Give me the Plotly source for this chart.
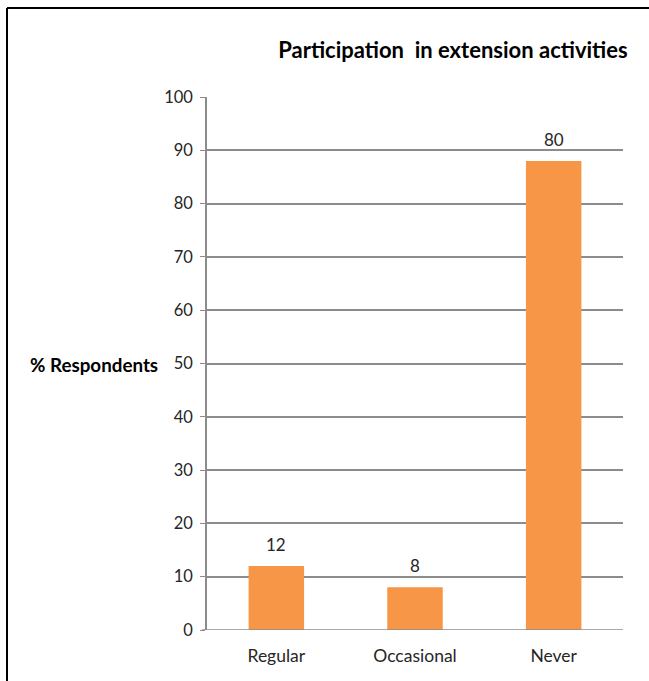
import plotly.graph_objects as go

categories = ["Regular", "Occasional", "Never"]
bar_heights = [12, 8, 88]
bar_labels = ["12", "8", "80"]
y_ticks = [0, 10, 20, 30, 40, 50, 60, 70, 80, 90, 100]

W, H = 649, 681
L, R, T, B = 207, 26, 97, 51
FONT = "Lato, sans-serif"

fig = go.Figure()
fig.add_trace(go.Bar(
    x=categories, y=bar_heights,
    marker=dict(color="#F79646", line=dict(width=0)),
    width=0.4,
))

pw = W - L - R
ph = H - T - B
def px(x):
    return (x - L) / pw
def py(y):
    return (H - B - y) / ph

annotations = [dict(text="<b>% Respondents</b>", xref="paper", yref="paper",
                    x=px(94), y=py(364), xanchor="center", yanchor="middle",
                    showarrow=False,
                    font=dict(family=FONT, size=18.8, color="black"))]
for c, h, lab in zip(categories, bar_heights, bar_labels):
    annotations.append(dict(text=lab, x=c, y=h, xref="x", yref="y",
                            showarrow=False, yanchor="bottom", yshift=9,
                            font=dict(family=FONT, size=17, color="#262626")))

fig.update_layout(
    width=W, height=H,
    margin=dict(l=L, r=R, t=T, b=B, pad=0),
    paper_bgcolor="white", plot_bgcolor="white",
    showlegend=False,
    title=dict(text="<b>Participation  in extension activities</b>",
               x=px(453), xref="paper", xanchor="center",
               y=1 - 50 / H, yanchor="middle",
               font=dict(family=FONT, size=22, color="black")),
    xaxis=dict(showgrid=False, showline=False, ticks="",
               tickfont=dict(family=FONT, size=17.5, color="#262626"),
               ticklabelstandoff=13),
    yaxis=dict(range=[0, 100], tickvals=y_ticks, showgrid=True,
               gridcolor="#8C8C8C", gridwidth=1.5,
               showline=True, linecolor="#8C8C8C", linewidth=1.5,
               ticks="outside", ticklen=5, tickcolor="#8C8C8C",
               tickfont=dict(family=FONT, size=16.5, color="#262626"),
               ticklabelstandoff=4, zeroline=False),
    annotations=annotations,
    shapes=[
        dict(type="line", xref="paper", yref="paper",
             x0=px(7), x1=px(649), y0=py(8), y1=py(8),
             line=dict(color="black", width=2)),
        dict(type="line", xref="paper", yref="paper",
             x0=px(7), x1=px(7), y0=py(8), y1=py(681),
             line=dict(color="black", width=2)),
        dict(type="line", xref="paper", yref="y",
             x0=px(202), x1=1, y0=0, y1=0,
             line=dict(color="#8C8C8C", width=1.5)),
    ],
)

fig.write_html("out.html")
